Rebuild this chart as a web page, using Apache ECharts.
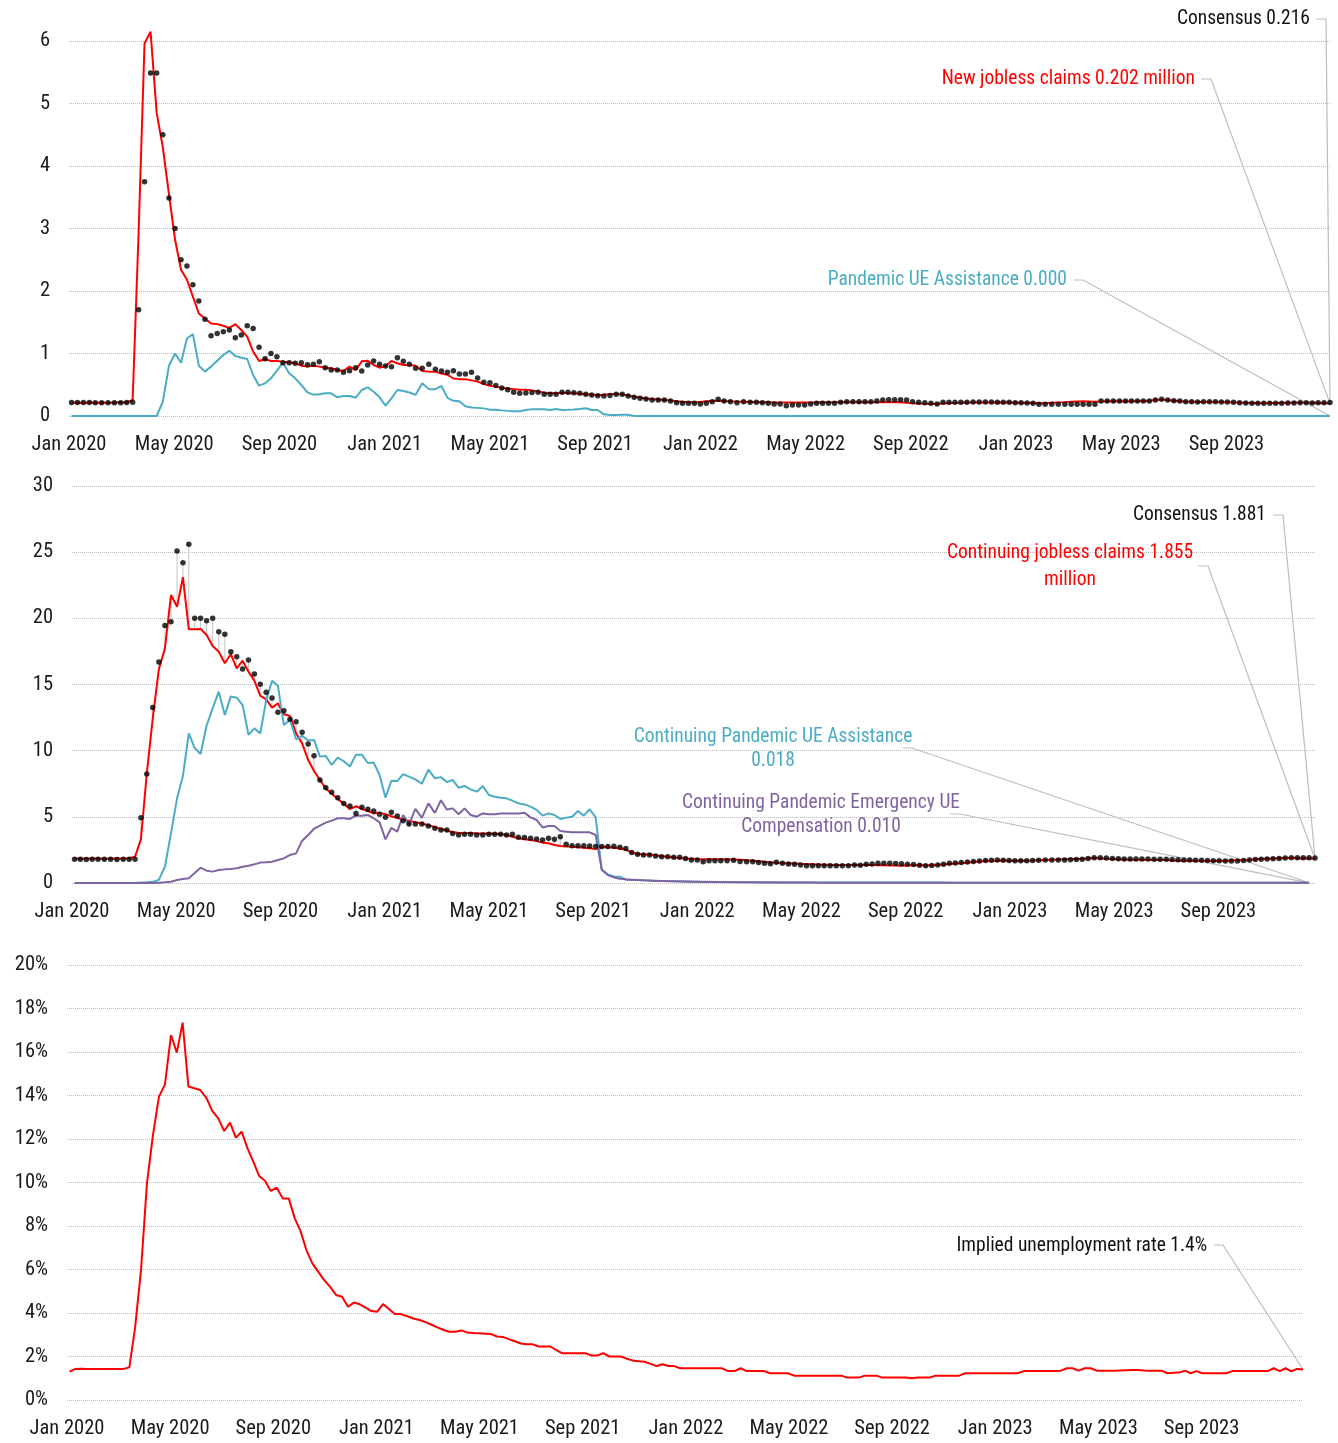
<!DOCTYPE html>
<html><head><meta charset="utf-8">
<script src="https://cdn.jsdelivr.net/npm/echarts@6/dist/echarts.min.js"></script>
<style>html,body{margin:0;padding:0;background:#fff}#c{width:1338px;height:1443px}</style>
</head><body><div id="c"></div>
<script>
// ---- tick labels ----
const monthNames = ['Jan','Feb','Mar','Apr','May','Jun','Jul','Aug','Sep','Oct','Nov','Dec'];
const firstWeekEnding = [2020, 0, 4]; // Saturday, 4 Jan 2020, weekly data

// ---- Panel 1: initial claims, millions (weeks ending 4 Jan 2020 .. 30 Dec 2023) ----
const newClaims = [
0.214,0.212,0.208,0.215,0.211,0.213,0.212,0.215,0.219,0.216,
0.256,2.92,5.96,6.15,4.85,4.30,3.55,2.82,2.34,2.18,
1.91,1.64,1.56,1.48,1.47,1.445,1.41,1.47,1.376,1.27,
1.03,0.88,0.907,0.88,0.88,0.87,0.86,0.843,0.805,0.79,
0.805,0.79,0.773,0.763,0.736,0.72,0.79,0.736,0.875,0.885,
0.816,0.773,0.80,0.88,0.843,0.816,0.816,0.805,0.72,0.71,
0.71,0.68,0.66,0.60,0.59,0.59,0.57,0.55,0.51,0.485,
0.47,0.45,0.44,0.43,0.42,0.42,0.41,0.39,0.375,0.365,
0.37,0.37,0.365,0.363,0.355,0.347,0.34,0.336,0.34,0.35,
0.352,0.345,0.33,0.31,0.295,0.28,0.272,0.265,0.256,0.25,
0.235,0.228,0.222,0.219,0.225,0.235,0.24,0.245,0.24,0.235,
0.23,0.228,0.225,0.222,0.22,0.219,0.217,0.216,0.215,0.215,
0.216,0.217,0.218,0.218,0.219,0.219,0.22,0.22,0.22,0.22,
0.22,0.221,0.222,0.222,0.222,0.221,0.22,0.22,0.213,0.205,
0.20,0.195,0.192,0.195,0.20,0.205,0.21,0.212,0.215,0.217,
0.218,0.218,0.218,0.217,0.216,0.215,0.213,0.212,0.21,0.208,
0.205,0.207,0.212,0.218,0.222,0.228,0.232,0.236,0.232,0.228,
0.232,0.236,0.238,0.235,0.232,0.235,0.238,0.24,0.245,0.258,
0.262,0.255,0.245,0.235,0.23,0.228,0.226,0.226,0.225,0.224,
0.222,0.22,0.218,0.214,0.21,0.208,0.206,0.205,0.206,0.208,
0.21,0.212,0.214,0.215,0.214,0.212,0.208,0.205,0.202];

const newConsensus = [
0.215,0.215,0.216,0.215,0.214,0.213,0.212,0.212,0.213,0.215,
0.22,1.70,3.75,5.49,5.49,4.50,3.49,3.00,2.50,2.40,
2.10,1.84,1.55,1.285,1.32,1.35,1.375,1.253,1.296,1.445,
1.40,1.10,0.917,1.00,0.95,0.853,0.853,0.843,0.853,0.82,
0.827,0.87,0.773,0.736,0.736,0.70,0.725,0.773,0.72,0.816,
0.88,0.83,0.80,0.79,0.933,0.875,0.827,0.763,0.763,0.827,
0.747,0.72,0.70,0.725,0.672,0.672,0.70,0.61,0.54,0.533,
0.49,0.448,0.42,0.382,0.363,0.368,0.376,0.38,0.347,0.347,
0.347,0.38,0.38,0.373,0.363,0.347,0.336,0.325,0.32,0.33,
0.347,0.347,0.32,0.30,0.283,0.272,0.256,0.256,0.256,0.24,
0.213,0.203,0.203,0.203,0.192,0.203,0.23,0.267,0.24,0.23,
0.213,0.23,0.219,0.219,0.213,0.203,0.192,0.192,0.165,0.176,
0.176,0.176,0.192,0.203,0.203,0.203,0.203,0.219,0.23,0.23,
0.23,0.23,0.23,0.24,0.256,0.262,0.262,0.262,0.256,0.23,
0.22,0.213,0.203,0.192,0.22,0.22,0.22,0.22,0.22,0.224,
0.224,0.224,0.224,0.22,0.22,0.22,0.213,0.213,0.208,0.203,
0.187,0.187,0.187,0.187,0.187,0.187,0.187,0.187,0.187,0.187,
0.24,0.24,0.24,0.24,0.24,0.24,0.24,0.24,0.24,0.256,
0.267,0.256,0.245,0.24,0.23,0.23,0.224,0.23,0.23,0.23,
0.224,0.224,0.219,0.213,0.208,0.203,0.203,0.203,0.203,0.203,
0.203,0.208,0.208,0.213,0.213,0.208,0.213,0.213,0.216];

const newPUA = [
0,0,0,0,0,0,0,0,0,0,
0,0,0,0,0,0.23,0.805,1.0,0.853,1.24,
1.31,0.805,0.71,0.79,0.885,0.976,1.045,0.96,0.933,0.912,
0.656,0.485,0.523,0.603,0.725,0.853,0.683,0.603,0.496,0.379,
0.341,0.347,0.363,0.363,0.299,0.32,0.32,0.293,0.416,0.459,
0.389,0.299,0.165,0.283,0.416,0.40,0.375,0.34,0.523,0.43,
0.43,0.48,0.29,0.243,0.235,0.155,0.136,0.13,0.122,0.10,
0.10,0.09,0.082,0.075,0.075,0.096,0.11,0.11,0.107,0.096,
0.112,0.096,0.10,0.105,0.112,0.123,0.096,0.096,0.027,0.016,
0.016,0.02,0.02,0,0,0,0,0,0,0,
0,0,0,0,0,0,0,0,0,0,
0,0,0,0,0,0,0,0,0,0,
0,0,0,0,0,0,0,0,0,0,
0,0,0,0,0,0,0,0,0,0,
0,0,0,0,0,0,0,0,0,0,
0,0,0,0,0,0,0,0,0,0,
0,0,0,0,0,0,0,0,0,0,
0,0,0,0,0,0,0,0,0,0,
0,0,0,0,0,0,0,0,0,0,
0,0,0,0,0,0,0,0,0,0,
0,0,0,0,0,0,0,0,0];

// ---- Panel 2: continuing claims, millions (weeks ending 4 Jan 2020 .. 23 Dec 2023) ----
const contClaims = [
1.86,1.84,1.85,1.86,1.85,1.84,1.86,1.85,1.86,1.87,
1.99,3.30,8.29,12.44,16.15,17.73,21.76,20.88,23.10,19.17,
19.17,19.20,18.74,17.91,17.48,16.60,17.30,16.22,16.80,15.97,
15.29,14.16,13.88,13.25,13.58,12.75,12.62,11.31,10.55,9.29,
8.46,7.78,7.15,6.75,6.35,5.98,5.58,5.80,5.59,5.44,
5.26,5.30,5.20,5.03,4.92,4.78,4.70,4.60,4.50,4.37,
4.22,4.10,3.97,3.83,3.80,3.78,3.78,3.75,3.75,3.74,
3.73,3.70,3.63,3.50,3.38,3.30,3.25,3.17,3.05,3.00,
2.87,2.80,2.75,2.74,2.70,2.67,2.62,2.56,2.72,2.70,
2.66,2.60,2.52,2.30,2.20,2.17,2.15,2.10,2.03,1.98,
1.93,1.88,1.85,1.83,1.81,1.80,1.80,1.79,1.79,1.79,
1.78,1.75,1.72,1.69,1.65,1.60,1.56,1.53,1.50,1.49,
1.47,1.45,1.44,1.42,1.40,1.38,1.37,1.36,1.36,1.36,
1.36,1.36,1.36,1.36,1.35,1.34,1.33,1.32,1.31,1.33,
1.35,1.35,1.34,1.35,1.37,1.40,1.43,1.47,1.50,1.53,
1.58,1.62,1.66,1.68,1.69,1.70,1.69,1.68,1.68,1.69,
1.70,1.72,1.74,1.76,1.78,1.80,1.81,1.82,1.83,1.86,
1.88,1.86,1.84,1.82,1.79,1.77,1.76,1.76,1.75,1.74,
1.73,1.74,1.73,1.70,1.69,1.69,1.69,1.68,1.66,1.67,
1.66,1.67,1.68,1.70,1.72,1.73,1.76,1.80,1.82,1.84,
1.86,1.87,1.88,1.88,1.87,1.86,1.86,1.855];

const contConsensus = [
1.80,1.79,1.78,1.79,1.79,1.80,1.79,1.78,1.79,1.79,
1.79,4.94,8.24,13.27,16.70,19.45,19.75,25.09,24.20,25.60,
20.00,20.00,19.82,20.00,18.99,18.79,17.48,17.10,16.17,16.85,
15.79,15.01,14.41,13.98,12.90,13.02,12.37,12.19,11.39,10.50,
9.62,7.78,7.20,6.85,6.45,6.00,5.82,5.26,5.72,5.57,
5.44,5.19,4.96,5.34,5.06,4.71,4.46,4.46,4.46,4.31,
4.13,4.00,4.00,3.75,3.63,3.68,3.68,3.63,3.63,3.68,
3.68,3.68,3.63,3.68,3.45,3.43,3.38,3.33,3.25,3.38,
3.30,3.50,2.92,2.82,2.82,2.82,2.80,2.75,2.75,2.75,
2.78,2.70,2.60,2.30,2.17,2.12,2.12,2.04,1.99,1.99,
1.94,1.94,1.86,1.74,1.74,1.61,1.69,1.69,1.69,1.69,
1.72,1.62,1.60,1.60,1.55,1.50,1.45,1.56,1.49,1.44,
1.41,1.36,1.31,1.31,1.31,1.31,1.31,1.31,1.31,1.31,
1.36,1.34,1.41,1.44,1.49,1.49,1.50,1.48,1.45,1.42,
1.40,1.35,1.31,1.33,1.36,1.42,1.49,1.52,1.54,1.58,
1.62,1.66,1.70,1.72,1.74,1.72,1.70,1.69,1.69,1.69,
1.70,1.72,1.74,1.74,1.74,1.74,1.76,1.78,1.79,1.86,
1.90,1.91,1.88,1.86,1.84,1.82,1.81,1.81,1.81,1.81,
1.80,1.79,1.79,1.77,1.75,1.74,1.73,1.72,1.71,1.70,
1.69,1.68,1.67,1.66,1.67,1.70,1.74,1.77,1.80,1.82,
1.84,1.86,1.88,1.90,1.91,1.91,1.90,1.881];

// weeks ending 4 Jan 2020 .. 16 Dec 2023
const contPUA = [
0,0,0,0,0,0,0,0,0,0,
0,0.03,0.05,0.10,0.23,1.23,3.75,6.40,8.10,11.30,
10.20,9.75,11.90,13.20,14.46,12.70,14.10,14.00,13.45,11.20,
11.69,11.30,13.80,15.29,14.90,11.94,12.32,10.86,11.13,10.76,
10.81,9.55,9.60,8.92,9.47,9.20,8.80,9.70,9.70,9.07,
9.10,8.16,6.45,7.73,7.70,8.22,8.04,7.83,7.50,8.56,
7.91,8.00,7.63,7.78,7.20,7.33,7.08,6.90,7.33,6.65,
6.52,6.45,6.40,6.22,6.02,5.94,5.77,5.52,5.09,5.26,
5.14,4.84,4.94,5.01,5.44,5.09,5.57,4.96,1.00,0.65,
0.50,0.48,0.25,0.23,0.22,0.20,0.18,0.17,0.16,0.15,
0.14,0.13,0.12,0.11,0.10,0.09,0.09,0.08,0.08,0.07,
0.07,0.06,0.06,0.06,0.05,0.05,0.05,0.05,0.04,0.04,
0.04,0.04,0.04,0.04,0.04,0.03,0.03,0.03,0.03,0.03,
0.03,0.03,0.03,0.03,0.03,0.03,0.03,0.03,0.03,0.03,
0.03,0.03,0.03,0.03,0.03,0.03,0.025,0.025,0.025,0.025,
0.025,0.025,0.025,0.025,0.025,0.025,0.025,0.025,0.025,0.025,
0.024,0.024,0.024,0.024,0.024,0.023,0.023,0.023,0.023,0.023,
0.022,0.022,0.022,0.022,0.022,0.022,0.021,0.021,0.021,0.021,
0.021,0.021,0.020,0.020,0.020,0.020,0.020,0.020,0.020,0.020,
0.019,0.019,0.019,0.019,0.019,0.019,0.019,0.019,0.019,0.019,
0.019,0.018,0.018,0.018,0.018,0.018,0.018];

const contPEUC = [
0,0,0,0,0,0,0,0,0,0,
0,0,0,0,0.02,0.05,0.10,0.23,0.30,0.35,
0.75,1.16,0.93,0.86,0.98,1.03,1.06,1.11,1.23,1.31,
1.41,1.54,1.56,1.61,1.74,1.86,2.12,2.24,3.20,3.63,
4.10,4.33,4.56,4.71,4.89,4.89,4.84,5.09,5.09,5.14,
4.89,4.58,3.30,4.17,3.88,5.14,4.42,5.60,4.92,6.02,
5.30,6.25,5.55,5.64,5.19,5.64,5.14,5.01,5.26,5.19,
5.19,5.26,5.26,5.26,5.26,5.31,4.96,4.76,4.20,4.31,
4.31,3.93,3.88,3.83,3.83,3.83,3.83,3.63,1.00,0.60,
0.42,0.32,0.28,0.25,0.22,0.20,0.18,0.16,0.15,0.14,
0.13,0.12,0.11,0.10,0.09,0.08,0.08,0.07,0.07,0.06,
0.06,0.05,0.05,0.05,0.04,0.04,0.04,0.04,0.03,0.03,
0.03,0.03,0.03,0.03,0.02,0.02,0.02,0.02,0.02,0.02,
0.02,0.02,0.02,0.02,0.02,0.02,0.02,0.02,0.02,0.02,
0.018,0.018,0.018,0.018,0.018,0.018,0.018,0.018,0.018,0.018,
0.016,0.016,0.016,0.016,0.016,0.016,0.016,0.016,0.016,0.016,
0.015,0.015,0.015,0.015,0.015,0.015,0.015,0.015,0.015,0.015,
0.014,0.014,0.014,0.014,0.014,0.014,0.014,0.014,0.014,0.014,
0.013,0.013,0.013,0.013,0.013,0.013,0.013,0.013,0.013,0.013,
0.012,0.012,0.012,0.012,0.012,0.012,0.012,0.012,0.012,0.012,
0.011,0.011,0.011,0.010,0.010,0.010,0.010];

// ---- Panel 3: implied unemployment rate, % (weeks ending 4 Jan 2020 .. 30 Dec 2023) ----
const impliedRate = [
1.30,1.43,1.44,1.43,1.43,1.43,1.43,1.43,1.43,1.43,
1.50,3.37,5.98,9.96,12.18,13.95,14.51,16.78,15.97,17.35,
14.41,14.33,14.25,13.90,13.29,12.95,12.37,12.75,12.06,12.34,
11.57,10.96,10.30,10.08,9.61,9.76,9.27,9.27,8.35,7.74,
6.87,6.28,5.90,5.52,5.21,4.83,4.75,4.29,4.48,4.40,
4.25,4.09,4.06,4.41,4.18,3.95,3.95,3.86,3.75,3.68,
3.57,3.45,3.33,3.22,3.14,3.14,3.20,3.10,3.08,3.07,
3.05,3.03,2.92,2.90,2.80,2.70,2.60,2.56,2.56,2.46,
2.46,2.46,2.30,2.15,2.15,2.15,2.15,2.15,2.05,2.05,
2.15,2.00,2.00,2.00,1.90,1.82,1.78,1.76,1.66,1.56,
1.64,1.56,1.56,1.46,1.46,1.46,1.46,1.46,1.46,1.46,
1.46,1.33,1.33,1.46,1.33,1.33,1.33,1.33,1.23,1.23,
1.23,1.23,1.12,1.12,1.12,1.12,1.12,1.12,1.12,1.12,
1.12,1.03,1.03,1.03,1.12,1.12,1.12,1.03,1.03,1.03,
1.03,1.03,1.00,1.03,1.03,1.03,1.12,1.12,1.12,1.12,
1.12,1.23,1.23,1.23,1.23,1.23,1.23,1.23,1.23,1.23,
1.23,1.33,1.33,1.33,1.33,1.33,1.33,1.35,1.46,1.46,
1.35,1.46,1.46,1.35,1.35,1.35,1.35,1.36,1.37,1.38,
1.38,1.36,1.35,1.35,1.35,1.23,1.25,1.26,1.35,1.23,
1.33,1.23,1.23,1.23,1.23,1.23,1.33,1.33,1.33,1.33,
1.33,1.33,1.33,1.46,1.33,1.46,1.32,1.43,1.40];

// ---- annotation texts ----
const notes1 = {consensus:'Consensus 0.216', actual:'New jobless claims 0.202 million', pua:'Pandemic UE Assistance 0.000'};
const notes2 = {consensus:'Consensus 1.881', actual:'Continuing jobless claims 1.855\nmillion',
  pua:'Continuing Pandemic UE Assistance\n0.018', peuc:'Continuing Pandemic Emergency UE\nCompensation 0.010'};
const notes3 = {rate:'Implied unemployment rate 1.4%'};

// ---- helpers ----
// week-ending date -> fractional months since 1 Jan 2020 (axis unit)
function weekPositions(n){
  const t0 = Date.UTC(firstWeekEnding[0], firstWeekEnding[1], firstWeekEnding[2]);
  const out = [];
  for (let i = 0; i < n; i++){
    const d = new Date(t0 + i * 7 * 86400000);
    const y = d.getUTCFullYear(), m = d.getUTCMonth(), day = d.getUTCDate();
    const dim = new Date(Date.UTC(y, m + 1, 0)).getUTCDate();
    out.push((y - 2020) * 12 + m + (day - 1) / dim);
  }
  return out;
}
function pairs(xs, ys){ return ys.map((v, i) => [xs[i], v]); }

const FONT = '"Liberation Sans Narrow","Arial Narrow","Roboto Condensed","DejaVu Sans Condensed","Roboto",sans-serif';
const RED = '#ff0000', BLUE = '#4bacc6', PURPLE = '#8064a2', DOT = '#000000', GUIDE = '#bdbdbd';
const AXIS_FS = 20.5, NOTE_FS = 19.5;

const x1 = weekPositions(newClaims.length);
const x2 = weekPositions(contClaims.length);
const x2b = weekPositions(contPUA.length);
const x3 = weekPositions(impliedRate.length);

function monthLabel(v){
  const r = Math.round(v);
  if (Math.abs(v - r) > 1e-6 || r % 4 !== 0) return '';
  return monthNames[r % 12] + ' ' + (2020 + Math.floor(r / 12));
}
function xAxisFor(k, maxV){
  return {gridIndex:k, type:'value', min:0, max:maxV, interval:4,
    axisLine:{show:false}, axisTick:{show:false}, splitLine:{show:false},
    axisLabel:{formatter:monthLabel, fontFamily:FONT, fontSize:AXIS_FS, color:'#1a1a1a', margin:18, showMaxLabel:false}};
}
function yAxisFor(k, maxV, step, fmt){
  return {gridIndex:k, type:'value', min:0, max:maxV, interval:step,
    axisLine:{show:false}, axisTick:{show:false},
    splitLine:{show:true, lineStyle:{type:'dotted', color:'#bdbdbd', width:1}},
    axisLabel:{formatter:fmt, fontFamily:FONT, fontSize:AXIS_FS, color:'#1a1a1a', margin:19}};
}
function lineSeries(k, data, color, z){
  return {type:'line', xAxisIndex:k, yAxisIndex:k, data:data, showSymbol:false, symbol:'none',
    lineStyle:{color:color, width:2}, itemStyle:{color:color}, clip:false, z:z, animation:false};
}
function dotSeries(k, data){
  return {type:'scatter', xAxisIndex:k, yAxisIndex:k, data:data, symbolSize:5.5,
    itemStyle:{color:DOT}, z:10, animation:false, clip:false};
}

const chart = echarts.init(document.getElementById('c'), null, {renderer:'canvas'});

const option = {
  backgroundColor:'#ffffff',
  animation:false,
  grid:[
    {left:69, top:41, width:1261, height:375},
    {left:72, top:486, width:1243, height:397},
    {left:67, top:965, width:1236, height:435}
  ],
  xAxis:[xAxisFor(0, x1[x1.length-1]), xAxisFor(1, x2[x2.length-1]), xAxisFor(2, x3[x3.length-1])],
  yAxis:[yAxisFor(0, 6, 1, '{value}'), yAxisFor(1, 30, 5, '{value}'), yAxisFor(2, 20, 2, '{value}%')],
  series:[
    lineSeries(0, pairs(x1, newPUA), BLUE, 3),
    lineSeries(0, pairs(x1, newClaims), RED, 4),
    dotSeries(0, pairs(x1, newConsensus)),

    {type:'custom', xAxisIndex:1, yAxisIndex:1, z:2, animation:false,
     data: contClaims.map((v, i) => [x2[i], contConsensus[i], v]),
     renderItem: function(params, api){
       const a = api.coord([api.value(0), api.value(1)]);
       const b = api.coord([api.value(0), api.value(2)]);
       return {type:'line', shape:{x1:a[0], y1:a[1], x2:b[0], y2:b[1]},
               style:{stroke:'#c4c4c4', lineWidth:1}};
     }},
    lineSeries(1, pairs(x2, contClaims), RED, 3),
    lineSeries(1, pairs(x2b, contPUA), BLUE, 4),
    lineSeries(1, pairs(x2b, contPEUC), PURPLE, 5),
    dotSeries(1, pairs(x2, contConsensus)),

    lineSeries(2, pairs(x3, impliedRate), RED, 3)
  ]
};
chart.setOption(option);

// ---- annotations: text + leader line ending at the last data point (via the chart's own scales) ----
function lastPoint(k, xs, ys){
  return chart.convertToPixel({gridIndex:k}, [xs[xs.length-1], ys[ys.length-1]]);
}
const notes = [
  {text:notes1.consensus, color:'#111', tx:1310, ty:19, align:'right', s0:1316, s1:1326, sy:19, pt:lastPoint(0, x1, newConsensus)},
  {text:notes1.actual, color:RED, tx:1195, ty:79, align:'right', s0:1201, s1:1211, sy:79, pt:lastPoint(0, x1, newClaims)},
  {text:notes1.pua, color:BLUE, tx:1067, ty:280, align:'right', s0:1074, s1:1083, sy:280, pt:lastPoint(0, x1, newPUA)},
  {text:notes2.consensus, color:'#111', tx:1266, ty:515, align:'right', s0:1273, s1:1283, sy:515, pt:lastPoint(1, x2, contConsensus)},
  {text:notes2.actual, color:RED, tx:1070, ty:567, align:'center', lh:27, s0:1198, s1:1208, sy:566, pt:lastPoint(1, x2, contClaims)},
  {text:notes2.pua, color:BLUE, tx:773, ty:749, align:'center', lh:24, s0:903, s1:912, sy:748, pt:lastPoint(1, x2b, contPUA)},
  {text:notes2.peuc, color:PURPLE, tx:821, ty:815, align:'center', lh:24, s0:950, s1:960, sy:814, pt:lastPoint(1, x2b, contPEUC)},
  {text:notes3.rate, color:'#111', tx:1207, ty:1246, align:'right', s0:1214, s1:1223, sy:1245, pt:lastPoint(2, x3, impliedRate)}
];
const graphics = [];
notes.forEach(n => {
  graphics.push({type:'polyline', silent:true, z:1,
    shape:{points:[[n.s0, n.sy], [n.s1, n.sy], [n.pt[0], n.pt[1]]]},
    style:{stroke:GUIDE, lineWidth:1.2, fill:null}});
  graphics.push({type:'text', silent:true, z:20, x:n.tx, y:n.ty,
    style:{text:n.text, fill:n.color, fontFamily:FONT, fontSize:NOTE_FS, align:n.align,
           verticalAlign:'middle', lineHeight:n.lh || 24}});
});
chart.setOption({graphic:graphics});
</script>
</body></html>
